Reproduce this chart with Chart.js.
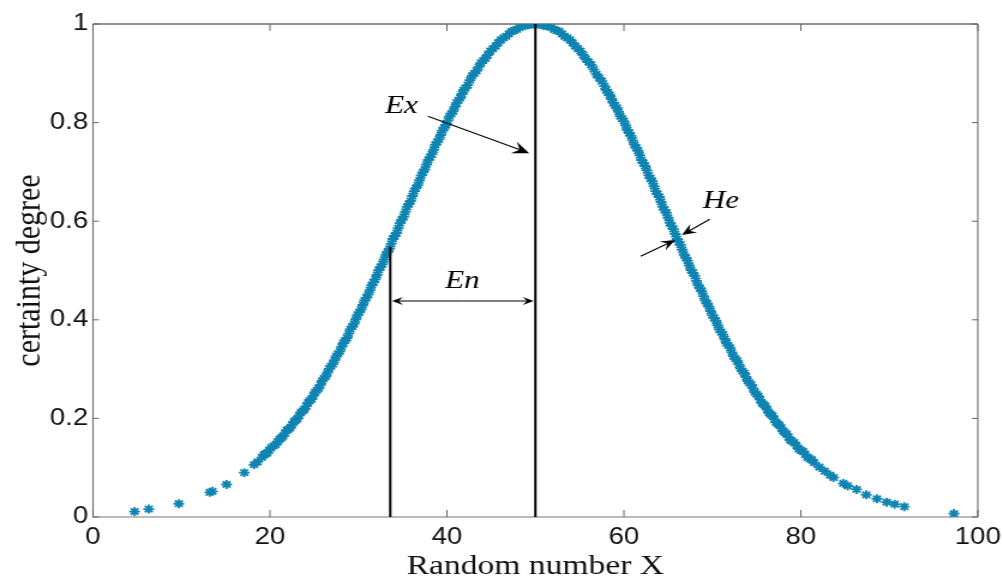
<!DOCTYPE html>
<html>
<head>
<meta charset="utf-8">
<script src="https://cdn.jsdelivr.net/npm/chart.js"></script>
<style>
  body { margin: 0; background: #fff; overflow: hidden; }
  /* the original figure is stretched sideways, so the canvas is too */
  #wrap { width: 836px; height: 583px; transform: scale(1.19976, 1); transform-origin: 0 0; }
</style>
</head>
<body>
<div id="wrap"><canvas id="cloud" width="836" height="583"></canvas></div>
<script>
// cloud drops (x = random number, y = certainty degree)
var dropX = [
  4.7, 6.3, 9.7, 13.2, 13.5, 15.1, 17.1, 18.2, 18.6, 19.1, 19.5, 19.9, 20.4, 20.9, 21.3, 21.7,
  22.1, 22.5, 22.9, 23.3, 23.7, 24.1, 24.5, 24.9, 25.3, 25.7, 26.1, 26.5, 26.9, 27.3, 27.7, 28.1,
  28.5, 28.9, 29.3, 29.7, 30.1, 30.5, 30.9, 31.3, 31.7, 32.1, 32.5, 32.9, 33.3, 33.7, 34.1, 34.5,
  34.9, 35.3, 35.7, 36.1, 36.5, 36.9, 37.3, 37.7, 38.1, 38.5, 38.9, 39.3, 39.7, 40.1, 40.5, 40.9,
  41.3, 41.7, 42.1, 42.6, 43.1, 43.6, 44.1, 44.6, 45.2, 45.8, 46.4, 47.0, 47.6, 48.2, 48.8, 49.4,
  50.0, 50.6, 51.2, 51.8, 52.4, 53.0, 53.6, 54.2, 54.8, 55.4, 56.0, 56.6, 57.2, 57.8, 58.2, 58.6,
  59.0, 59.4, 59.8, 60.2, 60.6, 61.0, 61.4, 61.8, 62.2, 62.6, 63.0, 63.4, 63.8, 64.2, 64.6, 65.0,
  65.4, 65.8, 66.2, 66.6, 67.0, 67.4, 67.8, 68.2, 68.6, 69.0, 69.4, 69.8, 70.2, 70.6, 71.0, 71.4,
  71.8, 72.2, 72.6, 73.0, 73.4, 73.8, 74.2, 74.6, 75.0, 75.4, 75.8, 76.2, 76.6, 77.0, 77.4, 77.8,
  78.2, 78.6, 79.0, 79.5, 80.0, 80.5, 81.0, 81.5, 82.1, 82.7, 83.3, 83.7, 84.8, 85.3, 86.3, 87.4,
  88.6, 89.7, 90.6, 91.7, 97.3
];
var dropY = [
  0.011, 0.016, 0.027, 0.050, 0.052, 0.066, 0.090, 0.106, 0.112, 0.121, 0.128, 0.135, 0.144, 0.153, 0.161, 0.170,
  0.178, 0.187, 0.196, 0.206, 0.215, 0.225, 0.236, 0.246, 0.257, 0.268, 0.281, 0.293, 0.306, 0.318, 0.331, 0.345,
  0.358, 0.372, 0.386, 0.401, 0.415, 0.430, 0.445, 0.460, 0.476, 0.491, 0.507, 0.522, 0.538, 0.554, 0.570, 0.586,
  0.603, 0.619, 0.635, 0.651, 0.667, 0.683, 0.699, 0.715, 0.730, 0.745, 0.761, 0.775, 0.790, 0.804, 0.818, 0.832,
  0.845, 0.858, 0.870, 0.886, 0.900, 0.913, 0.926, 0.937, 0.950, 0.962, 0.972, 0.980, 0.987, 0.993, 0.997, 0.999,
  1.000, 0.999, 0.997, 0.993, 0.987, 0.980, 0.972, 0.962, 0.950, 0.937, 0.923, 0.908, 0.891, 0.874, 0.861, 0.848,
  0.835, 0.822, 0.808, 0.794, 0.779, 0.764, 0.749, 0.734, 0.718, 0.703, 0.687, 0.671, 0.655, 0.639, 0.623, 0.607,
  0.590, 0.574, 0.558, 0.542, 0.526, 0.510, 0.495, 0.479, 0.464, 0.448, 0.433, 0.418, 0.404, 0.389, 0.375, 0.361,
  0.348, 0.334, 0.321, 0.309, 0.296, 0.284, 0.272, 0.261, 0.249, 0.238, 0.228, 0.218, 0.208, 0.198, 0.189, 0.180,
  0.171, 0.162, 0.154, 0.145, 0.135, 0.127, 0.118, 0.110, 0.101, 0.093, 0.085, 0.080, 0.068, 0.063, 0.056, 0.045,
  0.037, 0.030, 0.026, 0.021, 0.007
];
// second pass of drops along the dense part of the band
var dropX2 = [
  19.3, 19.7, 20.15, 20.65, 21.1, 21.5, 21.9, 22.3, 22.7, 23.1, 23.5, 23.9, 24.3, 24.7, 25.1, 25.5,
  25.9, 26.3, 26.7, 27.1, 27.5, 27.9, 28.3, 28.7, 29.1, 29.5, 29.9, 30.3, 30.7, 31.1, 31.5, 31.9,
  32.3, 32.7, 33.1, 33.5, 33.9, 34.3, 34.7, 35.1, 35.5, 35.9, 36.3, 36.7, 37.1, 37.5, 37.9, 38.3,
  38.7, 39.1, 39.5, 39.9, 40.3, 40.7, 41.1, 41.5, 41.9, 42.35, 42.85, 43.35, 43.85, 44.35, 44.9, 45.5,
  46.1, 46.7, 47.3, 47.9, 48.5, 49.1, 49.7,
  50.3, 50.9, 51.5, 52.1, 52.7, 53.3, 53.9, 54.5, 55.1, 55.7, 56.3, 56.9, 57.5, 58.0, 58.4, 58.8,
  59.2, 59.6, 60.0, 60.4, 60.8, 61.2, 61.6, 62.0, 62.4, 62.8, 63.2, 63.6, 64.0, 64.4, 64.8, 65.2,
  65.6, 66.0, 66.4, 66.8, 67.2, 67.6, 68.0, 68.4, 68.8, 69.2, 69.6, 70.0, 70.4, 70.8, 71.2, 71.6,
  72.0, 72.4, 72.8, 73.2, 73.6, 74.0, 74.4, 74.8, 75.2, 75.6, 76.0, 76.4, 76.8, 77.2, 77.6, 78.0,
  78.4, 78.8, 79.25, 79.75, 80.25, 80.75, 81.25
];
var dropY2 = [
  0.126, 0.130, 0.141, 0.147, 0.158, 0.164, 0.176, 0.181, 0.193, 0.199, 0.212, 0.218, 0.232, 0.239, 0.253, 0.261,
  0.276, 0.285, 0.301, 0.310, 0.326, 0.336, 0.353, 0.363, 0.381, 0.392, 0.410, 0.421, 0.439, 0.451, 0.470, 0.482,
  0.501, 0.513, 0.532, 0.544, 0.564, 0.576, 0.596, 0.609, 0.629, 0.641, 0.661, 0.673, 0.693, 0.705, 0.724, 0.736,
  0.755, 0.766, 0.784, 0.795, 0.813, 0.823, 0.840, 0.850, 0.866, 0.876, 0.895, 0.905, 0.921, 0.930, 0.945, 0.955,
  0.968, 0.975, 0.985, 0.989, 0.996, 0.998, 1.000,
  1.000, 0.997, 0.996, 0.989, 0.985, 0.975, 0.968, 0.955, 0.945, 0.929, 0.917, 0.898, 0.884, 0.866, 0.856, 0.840,
  0.830, 0.813, 0.803, 0.785, 0.773, 0.755, 0.743, 0.724, 0.712, 0.693, 0.681, 0.661, 0.649, 0.629, 0.617, 0.597,
  0.584, 0.564, 0.552, 0.532, 0.520, 0.501, 0.489, 0.470, 0.458, 0.439, 0.427, 0.409, 0.398, 0.380, 0.370, 0.353,
  0.343, 0.326, 0.317, 0.301, 0.292, 0.276, 0.268, 0.253, 0.245, 0.231, 0.225, 0.211, 0.205, 0.192, 0.186, 0.174,
  0.168, 0.156, 0.151, 0.138, 0.133, 0.121, 0.116
];

// the two vertical marker lines: Ex (expectation) and Ex - En
var exLineX = [50, 50];
var exLineY = [0, 1];
var enLineX = [33.6, 33.6];
var enLineY = [0, 0.548];

var xTicks = [0, 20, 40, 60, 80, 100];
var yTicks = [0, 0.2, 0.4, 0.6, 0.8, 1];

var dropColor = '#0f84b3';

function toPoints(xs, ys) {
    var pts = [];
    for (var i = 0; i < xs.length; i++) {
        pts.push({ x: xs[i], y: ys[i] });
    }
    return pts;
}

// arrow with a barbed (matlab style) head, pixel coords
function drawArrow(ctx, x1, y1, x2, y2, head, wide) {
    var ang = Math.atan2(y2 - y1, x2 - x1);
    ctx.beginPath();
    ctx.moveTo(x1, y1);
    ctx.lineTo(x2 - Math.cos(ang) * head * 0.6, y2 - Math.sin(ang) * head * 0.6);
    ctx.stroke();
    ctx.save();
    ctx.translate(x2, y2);
    ctx.rotate(ang);
    ctx.beginPath();
    ctx.moveTo(0, 0);
    ctx.lineTo(-head, -head * wide);
    ctx.lineTo(-head * 0.62, 0);
    ctx.lineTo(-head, head * wide);
    ctx.closePath();
    ctx.fill();
    ctx.restore();
}

// box, inward ticks and the Ex / En / He notes
var cloudNotes = {
    id: 'cloudNotes',
    beforeDatasetsDraw: function (chart) {
        var ctx = chart.ctx, a = chart.chartArea;
        var sx = chart.scales.x, sy = chart.scales.y;
        ctx.save();
        ctx.lineWidth = 1.2;
        ctx.strokeStyle = '#777';
        ctx.beginPath();
        ctx.moveTo(a.left, a.top); ctx.lineTo(a.left, a.bottom); ctx.lineTo(a.right, a.bottom); ctx.lineTo(a.right, a.top);
        ctx.stroke();
        ctx.strokeStyle = '#222';
        ctx.beginPath();
        ctx.moveTo(a.left, a.top); ctx.lineTo(a.right, a.top);
        ctx.stroke();
        ctx.strokeStyle = '#666';
        ctx.lineWidth = 1;
        xTicks.forEach(function (t) {
            var px = sx.getPixelForValue(t);
            ctx.beginPath();
            ctx.moveTo(px, a.bottom); ctx.lineTo(px, a.bottom - 7);
            ctx.moveTo(px, a.top); ctx.lineTo(px, a.top + 7);
            ctx.stroke();
        });
        yTicks.forEach(function (t) {
            var py = sy.getPixelForValue(t);
            ctx.beginPath();
            ctx.moveTo(a.left, py); ctx.lineTo(a.left + 5, py);
            ctx.moveTo(a.right, py); ctx.lineTo(a.right - 5, py);
            ctx.stroke();
        });
        ctx.restore();
    },
    afterDatasetsDraw: function (chart) {
        var ctx = chart.ctx;
        var sx = chart.scales.x, sy = chart.scales.y;
        function X(v) { return sx.getPixelForValue(v); }
        function Y(v) { return sy.getPixelForValue(v); }
        ctx.save();
        ctx.fillStyle = '#000';
        ctx.strokeStyle = '#000';
        ctx.font = 'italic 26px "Liberation Serif"';
        ctx.textBaseline = 'alphabetic';
        ctx.textAlign = 'left';
        ctx.fillText('Ex', X(33.0), Y(0.819));
        ctx.fillText('He', X(68.9), Y(0.627));
        ctx.textAlign = 'center';
        ctx.fillText('En', X(41.75), Y(0.465));

        ctx.lineWidth = 1.1;
        drawArrow(ctx, X(37.85), Y(0.813), X(49.3), Y(0.738), 14, 0.45);
        drawArrow(ctx, X(69.7), Y(0.604), X(66.55), Y(0.572), 12, 0.42);
        drawArrow(ctx, X(61.9), Y(0.529), X(65.8), Y(0.562), 12, 0.42);
        // En double arrow
        var yy = Y(0.438);
        drawArrow(ctx, X(41.8), yy, X(33.6) + 1.5, yy, 9, 0.45);
        drawArrow(ctx, X(41.8), yy, X(50) - 1.5, yy, 9, 0.45);
        ctx.restore();
    }
};

var chart = new Chart(document.getElementById('cloud'), {
    type: 'scatter',
    data: {
        datasets: [{
            data: toPoints(exLineX, exLineY),
            showLine: true,
            borderColor: '#000',
            borderWidth: 2,
            pointRadius: 0,
            order: 0
        }, {
            data: toPoints(enLineX, enLineY),
            showLine: true,
            borderColor: '#000',
            borderWidth: 2,
            pointRadius: 0,
            order: 0
        }, {
            data: toPoints(dropX, dropY),
            pointStyle: 'star',
            pointRadius: 4.5,
            borderWidth: 1.9,
            borderColor: dropColor,
            backgroundColor: dropColor,
            order: 1
        }, {
            data: toPoints(dropX2, dropY2),
            pointStyle: 'star',
            pointRadius: 4.5,
            borderWidth: 1.9,
            borderColor: dropColor,
            backgroundColor: dropColor,
            order: 1
        }]
    },
    options: {
        responsive: false,
        animation: false,
        layout: { padding: { top: 24, right: 21, left: 0, bottom: 0 } },
        plugins: {
            legend: { display: false },
            tooltip: { enabled: false }
        },
        scales: {
            x: {
                type: 'linear',
                min: 0,
                max: 100,
                grid: { display: false, drawTicks: false },
                border: { display: false },
                afterBuildTicks: function (s) { s.ticks = xTicks.map(function (v) { return { value: v }; }); },
                afterFit: function (s) { s.height = 66; s.paddingLeft = 0; s.paddingRight = 0; },
                ticks: {
                    padding: 7,
                    color: '#111',
                    callback: function (v) { return String(v); },
                    font: { family: '"Liberation Sans"', size: 23 }
                },
                title: {
                    display: true,
                    text: 'Random number X',
                    color: '#111',
                    padding: { top: 0, bottom: 0 },
                    font: { family: '"Liberation Serif"', size: 28 }
                }
            },
            y: {
                min: 0,
                max: 1,
                grid: { display: false, drawTicks: false },
                border: { display: false },
                afterBuildTicks: function (s) { s.ticks = yTicks.map(function (v) { return { value: v }; }); },
                afterFit: function (s) { s.width = 77.5; s.paddingTop = 0; s.paddingBottom = 0; },
                ticks: {
                    padding: 4,
                    color: '#111',
                    callback: function (v) { return String(v); },
                    font: { family: '"Liberation Sans"', size: 23 }
                },
                title: {
                    display: true,
                    text: 'certainty degree',
                    color: '#111',
                    padding: { top: 7, bottom: 0 },
                    font: { family: '"Liberation Serif"', size: 30 }
                }
            }
        }
    },
    plugins: [cloudNotes]
});
</script>
</body>
</html>
